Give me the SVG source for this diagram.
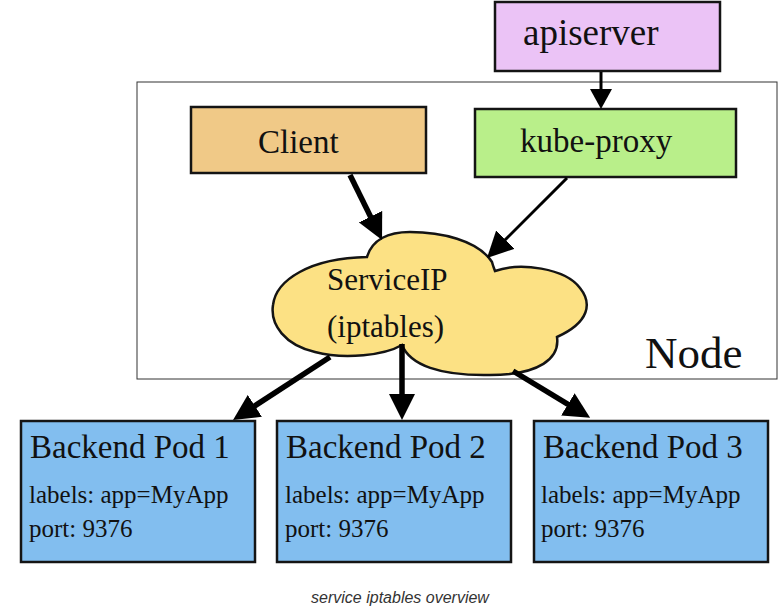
<svg xmlns="http://www.w3.org/2000/svg" width="778" height="608" viewBox="0 0 778 608">
<style>
  .box { stroke: #141414; stroke-width: 2.5; }
  .t { font-family: "Liberation Serif", "Times New Roman", serif; fill: #111; }
  .conn { stroke: #000; fill: none; stroke-linecap: butt; }
  .cap { font-family: "Liberation Sans", Arial, sans-serif; font-style: italic; font-size: 16px; fill: #333; }
</style>
<defs>
  <marker id="big" viewBox="0 0 26 26" refX="6" refY="13" markerWidth="26" markerHeight="26" markerUnits="userSpaceOnUse" orient="auto">
    <path d="M0,0 L26,13 L0,26 z" fill="#000"/>
  </marker>
  <marker id="small" viewBox="0 0 20 22" refX="4" refY="11" markerWidth="20" markerHeight="22" markerUnits="userSpaceOnUse" orient="auto">
    <path d="M0,0 L20,11 L0,22 z" fill="#000"/>
  </marker>
</defs>
<rect width="778" height="608" fill="#fff"/>

<g id="node-container">
  <rect x="137" y="82" width="640" height="297" fill="#fff" stroke="#333" stroke-width="1"/>
  <text class="t" x="645" y="368" font-size="45">Node</text>
</g>

<g id="apiserver">
  <rect class="box" x="495" y="2" width="225" height="69" fill="#EBC3F6"/>
  <text class="t" x="523" y="45" font-size="37">apiserver</text>
</g>

<g id="client">
  <rect class="box" x="191" y="107" width="235" height="66" fill="#F0C987"/>
  <text class="t" x="258" y="153" font-size="33">Client</text>
</g>

<g id="kube-proxy">
  <rect class="box" x="475" y="109" width="261" height="68" fill="#B9EF8A"/>
  <text class="t" x="520" y="152" font-size="33">kube-proxy</text>
</g>

<g id="serviceip">
  <path d="M367,257 C372,240 388,232 410,232 C440,232 478,240 492,262 C493,266 494,268 495,271 C520,262 565,268 580,288 C592,303 590,322 557,337 C560,358 540,375 490,375 C440,376 410,365 402,345 C385,355 345,360 315,352 C285,345 270,325 273,305 C276,280 310,258 367,257 Z" fill="#FCE184" stroke="#141414" stroke-width="2.5"/>
  <text class="t" x="327" y="290" font-size="31">ServiceIP</text>
  <text class="t" x="327" y="337" font-size="31">(iptables)</text>
</g>

<g id="pod1">
  <rect class="box" x="21" y="421" width="234" height="141" fill="#82BEEF"/>
  <text class="t" x="30" y="458" font-size="33">Backend Pod 1</text>
  <text class="t" x="29" y="503" font-size="25">labels: app=MyApp</text>
  <text class="t" x="29" y="537" font-size="25">port: 9376</text>
</g>

<g id="pod2">
  <rect class="box" x="277" y="421" width="234" height="141" fill="#82BEEF"/>
  <text class="t" x="286" y="458" font-size="33">Backend Pod 2</text>
  <text class="t" x="285" y="503" font-size="25">labels: app=MyApp</text>
  <text class="t" x="285" y="537" font-size="25">port: 9376</text>
</g>

<g id="pod3">
  <rect class="box" x="534" y="421" width="234" height="141" fill="#82BEEF"/>
  <text class="t" x="543" y="458" font-size="33">Backend Pod 3</text>
  <text class="t" x="541" y="503" font-size="25">labels: app=MyApp</text>
  <text class="t" x="541" y="537" font-size="25">port: 9376</text>
</g>

<g id="connectors">
  <line class="conn" x1="601" y1="72" x2="601" y2="93" stroke-width="3" marker-end="url(#small)"/>
  <line class="conn" x1="350" y1="175" x2="373.2" y2="222" stroke-width="5.5" marker-end="url(#big)"/>
  <line class="conn" x1="567" y1="178" x2="501.1" y2="243.9" stroke-width="3" marker-end="url(#big)"/>
  <line class="conn" x1="330" y1="357" x2="249.8" y2="409.1" stroke-width="5.5" marker-end="url(#big)"/>
  <line class="conn" x1="402" y1="344" x2="402" y2="400" stroke-width="5.5" marker-end="url(#big)"/>
  <line class="conn" x1="513" y1="371" x2="573" y2="407.4" stroke-width="5.5" marker-end="url(#big)"/>
</g>

<text class="cap" x="400" y="603" text-anchor="middle">service iptables overview</text>
</svg>
